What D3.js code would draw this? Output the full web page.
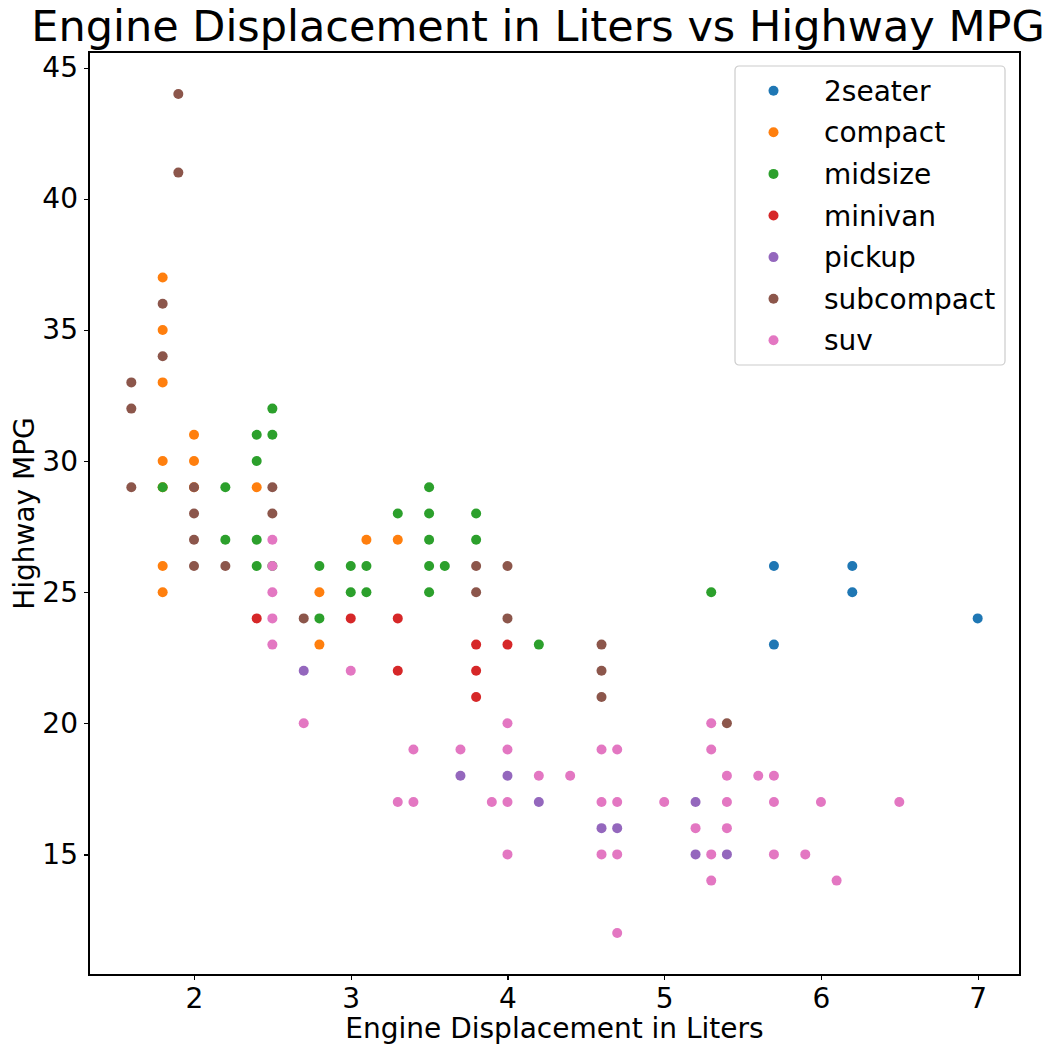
<!DOCTYPE html>
<html>
<head>
<meta charset="utf-8">
<style>
  body { margin: 0; background: #fff; }
  text { font-family: "DejaVu Sans", sans-serif; fill: #000; }
  .axis path, .axis line { stroke: #000; stroke-width: 1.25px; shape-rendering: crispEdges; }
</style>
</head>
<body>
<div id="chart"></div>
<script src="https://d3js.org/d3.v7.min.js"></script>
<script>
// vehicle classes, in legend / draw order
const classes = ['2seater', 'compact', 'midsize', 'minivan', 'pickup', 'subcompact', 'suv'];
const colors = ['#1f77b4', '#ff7f0e', '#2ca02c', '#d62728', '#9467bd', '#8c564b', '#e377c2'];

// [displacement, highway mpg]
const seater2 = [[5.7,26],[5.7,23],[6.2,26],[6.2,25],[7.0,24]];
const compact = [[1.8,37],[1.8,35],[1.8,33],[1.8,30],[1.8,29],[1.8,26],[1.8,25],[2.0,31],[2.0,30],[2.0,29],
  [2.4,29],[2.8,25],[2.8,23],[3.1,27],[3.3,27]];
const midsize = [[1.8,29],[2.2,29],[2.2,27],[2.4,31],[2.4,30],[2.4,27],[2.4,26],[2.5,32],[2.5,31],[2.5,26],
  [2.8,26],[2.8,24],[3.0,26],[3.0,25],[3.1,26],[3.1,25],[3.3,28],[3.5,29],[3.5,28],[3.5,27],[3.5,26],[3.5,25],
  [3.6,26],[3.8,28],[3.8,27],[4.2,23],[5.3,25]];
const minivan = [[2.4,24],[3.0,24],[3.3,24],[3.3,22],[3.8,23],[3.8,22],[3.8,21],[4.0,23]];
const pickup = [[2.7,22],[3.7,18],[4.0,18],[4.2,17],[4.6,16],[4.7,16],[5.2,17],[5.2,15],[5.4,15]];
const subcompact = [[1.6,33],[1.6,32],[1.6,29],[1.8,36],[1.8,34],[1.9,44],[1.9,41],[2.0,29],[2.0,28],[2.0,27],
  [2.0,26],[2.2,26],[2.5,29],[2.5,28],[2.7,24],[3.8,26],[3.8,25],[4.0,26],[4.0,24],[4.6,23],[4.6,22],[4.6,21],[5.4,20]];
const suv = [[2.5,27],[2.5,26],[2.5,25],[2.5,24],[2.5,23],[2.7,20],[3.0,22],[3.3,17],[3.4,19],[3.4,17],[3.7,19],
  [3.9,17],[4.0,20],[4.0,19],[4.0,17],[4.0,15],[4.2,18],[4.4,18],[4.6,19],[4.6,17],[4.6,15],[4.7,19],[4.7,17],
  [4.7,15],[4.7,12],[5.0,17],[5.2,16],[5.3,20],[5.3,19],[5.3,15],[5.3,14],[5.4,18],[5.4,17],[5.4,16],[5.6,18],
  [5.7,18],[5.7,17],[5.7,15],[5.9,15],[6.0,17],[6.1,14],[6.5,17]];
const series = [seater2, compact, midsize, minivan, pickup, subcompact, suv];

const xTicks = [2, 3, 4, 5, 6, 7];
const yTicks = [15, 20, 25, 30, 35, 40, 45];

const W = 1060, H = 1056;
const margin = { top: 52, right: 40, bottom: 81, left: 89 };
const width = W - margin.left - margin.right,
      height = H - margin.top - margin.bottom;

const x = d3.scaleLinear().domain([1.33, 7.27]).range([0, width]);
const y = d3.scaleLinear().domain([10.4, 45.6]).range([height, 0]);
const color = d3.scaleOrdinal().domain(classes).range(colors);

const svg = d3.select('#chart').append('svg')
  .attr('width', W).attr('height', H);

svg.append('text')
  .attr('x', 538).attr('y', 41)
  .attr('text-anchor', 'middle')
  .style('font-size', '43px')
  .text('Engine Displacement in Liters vs Highway MPG');

const g = svg.append('g').attr('transform', `translate(${margin.left},${margin.top})`);

// points, one group per class so later classes sit on top
classes.forEach((c, i) => {
  g.append('g').selectAll('circle')
    .data(series[i])
    .enter().append('circle')
    .attr('cx', d => x(d[0]))
    .attr('cy', d => y(d[1]))
    .attr('r', 5)
    .attr('fill', color(c));
});

// axes
const xAxis = g.append('g').attr('class', 'axis')
  .attr('transform', `translate(0,${height})`)
  .call(d3.axisBottom(x).tickValues(xTicks).tickSize(5).tickPadding(8).tickFormat(d3.format('d')));
const yAxis = g.append('g').attr('class', 'axis')
  .call(d3.axisLeft(y).tickValues(yTicks).tickSize(5).tickPadding(6).tickFormat(d3.format('d')));
[xAxis, yAxis].forEach(a => {
  a.select('.domain').remove();
  a.selectAll('text').style('font-size', '28px').attr('fill', '#000');
});

// frame
g.append('rect')
  .attr('width', width).attr('height', height)
  .attr('fill', 'none').attr('stroke', '#000').attr('stroke-width', 1.25)
  .attr('shape-rendering', 'crispEdges');

svg.append('text')
  .attr('x', margin.left + width / 2).attr('y', 1038)
  .attr('text-anchor', 'middle')
  .style('font-size', '28px')
  .text('Engine Displacement in Liters');

svg.append('text')
  .attr('transform', `translate(34,${margin.top + height / 2}) rotate(-90)`)
  .attr('text-anchor', 'middle')
  .style('font-size', '28px')
  .text('Highway MPG');

// legend
const legend = svg.append('g').attr('transform', 'translate(735,66)');
legend.append('rect')
  .attr('width', 270).attr('height', 299)
  .attr('rx', 4)
  .attr('fill', '#fff').attr('fill-opacity', 0.8)
  .attr('stroke', '#ccc').attr('stroke-width', 1.2);
const rows = legend.selectAll('.row')
  .data(classes)
  .enter().append('g')
  .attr('class', 'row')
  .attr('transform', (d, i) => `translate(0,${24.7 + i * 41.6})`);
rows.append('circle')
  .attr('cx', 38.5).attr('r', 5)
  .attr('fill', d => color(d));
rows.append('text')
  .attr('x', 89).attr('dy', '0.36em')
  .style('font-size', '28px')
  .text(d => d);
</script>
</body>
</html>
